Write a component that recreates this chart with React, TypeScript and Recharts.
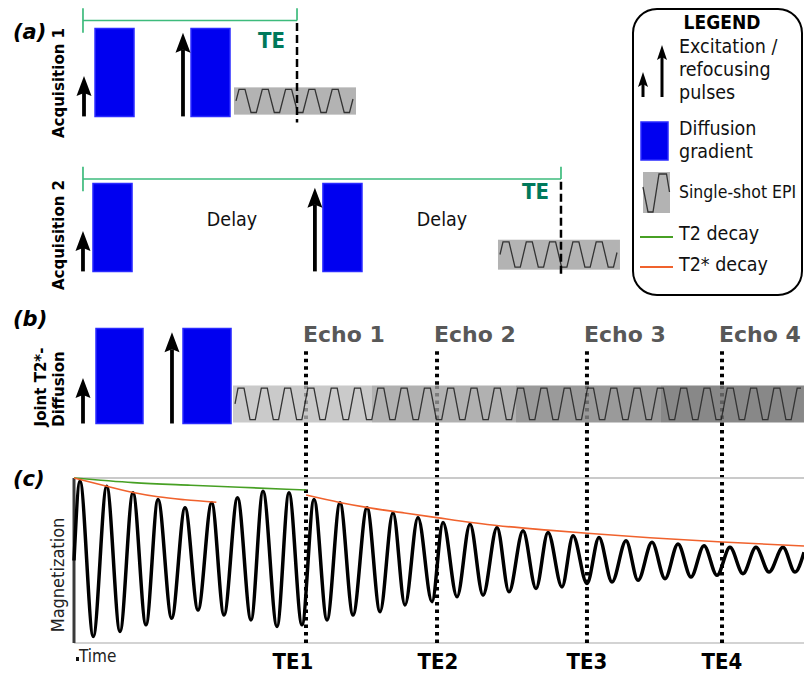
import React from "react";
import {
  ComposedChart,
  Line,
  XAxis,
  YAxis,
  ReferenceArea,
  ReferenceLine
} from "recharts";

const SANS = "'DejaVu Sans', sans-serif";
const COND = "'DejaVu Sans Condensed', 'DejaVu Sans', sans-serif";

const BLUE = "#0000f0";
const BLUE_EDGE = "#2a2aff";
const BRACKET = "#3dbb7c";
const TE_TEXT = "#00795b";
const T2_GREEN = "#47a024";
const T2S_ORANGE = "#f0622d";
const EPI_GRAY = "#b3b3b3";

// shared time axis (arbitrary units), t = 0 at the left edge of panel (c)
const timeDomain: [number, number] = [0, 100];

// (a) acquisition 1 -- amplitudes in gradient units (gradient lobe = 10)
const acq1Pulses = [
  { t: 1.37, amp: 4.6 },
  { t: 14.93, amp: 9.5 }
];
const acq1Gradients = [
  { from: 2.88, to: 8.22, amp: 10 },
  { from: 16.03, to: 21.37, amp: 10 }
];
const acq1Readout = [{ from: 21.92, to: 38.63, low: 0.2, high: 3.3 }];
const acq1Echo = { start: 1.23, te: 30.55, level: 10.9 };

// (a) acquisition 2
const acq2Pulses = [
  { t: 1.23, amp: 4.6 },
  { t: 33.0, amp: 9.5 }
];
const acq2Gradients = [
  { from: 2.6, to: 7.95, amp: 10 },
  { from: 34.1, to: 39.45, amp: 10 }
];
const acq2Readout = [{ from: 58.08, to: 74.79, low: 0.2, high: 3.6 }];
const acq2Echo = { start: 1.23, te: 66.71, level: 10.5 };

// (b) joint T2*-diffusion
const jointPulses = [
  { t: 1.23, amp: 4.8 },
  { t: 13.42, amp: 9.6 }
];
const jointGradients = [
  { from: 3.01, to: 9.45, amp: 10 },
  { from: 14.93, to: 21.51, amp: 10 }
];
const jointReadout = { low: 0.1, high: 4.0 };
const echoBounds = [21.78, 40.82, 60.55, 80.41, 100];
const echoShades = ["#cacaca", "#b1b1b1", "#9a9a9a", "#888888"];
const echoLabels = ["Echo 1", "Echo 2", "Echo 3", "Echo 4"];

// (c) echo times and magnetization
const teTimes = [31.78, 49.73, 70.27, 88.77];
const teLabels = ["TE1", "TE2", "TE3", "TE4"];

const magTime = [
  0, 0.82, 2.64, 4.48, 6.3, 8.08, 9.86, 11.51, 13.38, 15.21, 16.99, 18.86,
  20.55, 22.4, 24.25, 25.89, 27.81, 29.45, 31.23, 32.88, 34.66, 36.44, 38.22,
  40.14, 41.92, 43.7, 45.34, 47.12, 49.04, 50.55, 52.47, 54.25, 56.03, 57.95,
  59.59, 61.51, 63.29, 64.93, 66.85, 68.36, 70.27, 71.92, 73.7, 75.62, 77.26,
  79.18, 80.96, 82.74, 84.52, 86.3, 88.08, 89.86, 91.64, 93.42, 95.21, 97.12,
  98.77, 100
];
const magValue = [
  0.5, 0.98, 0.04, 0.95, 0.07, 0.91, 0.11, 0.87, 0.15, 0.82, 0.2, 0.85, 0.17,
  0.88, 0.14, 0.92, 0.1, 0.91, 0.11, 0.87, 0.14, 0.85, 0.17, 0.82, 0.19, 0.79,
  0.23, 0.76, 0.25, 0.73, 0.28, 0.72, 0.29, 0.7, 0.31, 0.68, 0.33, 0.67, 0.34,
  0.65, 0.36, 0.64, 0.37, 0.62, 0.38, 0.61, 0.39, 0.6, 0.4, 0.59, 0.41, 0.58,
  0.42, 0.58, 0.43, 0.58, 0.43, 0.55
];

const t2Time = [0, 8.1, 16.0, 22.7, 31.8];
const t2Value = [1.0, 0.972, 0.956, 0.944, 0.927];

const t2StarFirstTime = [0, 4.5, 8.1, 11.5, 15.2, 19.5];
const t2StarFirstValue = [1.0, 0.95, 0.912, 0.886, 0.868, 0.853];

const t2StarSecondTime = [31.8, 36.4, 40.1, 45.0, 49.7, 57.9, 64.9, 70.3, 78.9, 88.8, 100];
const t2StarSecondValue = [0.897, 0.852, 0.822, 0.79, 0.76, 0.712, 0.684, 0.665, 0.638, 0.612, 0.588];

const toRows = (ts: number[], vs: number[]) => ts.map((t, i) => ({ t, m: vs[i] }));
const magData = toRows(magTime, magValue);
const t2Data = toRows(t2Time, t2Value);
const t2StarFirst = toRows(t2StarFirstTime, t2StarFirstValue);
const t2StarSecond = toRows(t2StarSecondTime, t2StarSecondValue);

// EPI readout glyph (trapezoid gradient train), sizes in px
const EPI_RISE = 6;
const EPI_TOP = 6;
const EPI_FALL = 6;
const EPI_BOTTOM = 5.3;

function wavePath(x: number, y: number, w: number, h: number) {
  const top = y + h * 0.07;
  const bot = y + h * 0.92;
  const mid = (top + bot) / 2;
  const end = x + w - 3;
  const pts: Array<[number, number]> = [[x + 2, mid]];
  let cx = x + 2 + EPI_RISE / 2;
  pts.push([cx, top]);
  const steps: Array<[number, number]> = [
    [EPI_TOP, top],
    [EPI_FALL, bot],
    [EPI_BOTTOM, bot],
    [EPI_RISE, top]
  ];
  let k = 0;
  while (cx < end) {
    const [dx, ny] = steps[k % 4];
    const [px, py] = pts[pts.length - 1];
    const nx = cx + dx;
    if (nx > end) {
      const f = (end - px) / (nx - px);
      pts.push([end, py + (ny - py) * f]);
      break;
    }
    pts.push([nx, ny]);
    cx = nx;
    k += 1;
  }
  return "M" + pts.map((p) => `${p[0].toFixed(1)},${p[1].toFixed(1)}`).join(" L");
}

function EpiShape(props: any) {
  const { x, y, width, height, fill } = props;
  return (
    <g>
      {fill !== "none" && <rect x={x} y={y} width={width} height={height} fill={fill} />}
      <path d={wavePath(x, y, width, height)} fill="none" stroke="#333" strokeWidth={1.3} />
    </g>
  );
}

function arrowGlyph(x: number, baseY: number, tipY: number, headW: number, headH: number, shaft: number) {
  return (
    <g>
      <line x1={x} y1={baseY} x2={x} y2={tipY + headH - 3} stroke="#000" strokeWidth={shaft} />
      <polygon
        points={`${x},${tipY} ${x - headW / 2},${tipY + headH} ${x},${tipY + headH - 3} ${x + headW / 2},${tipY + headH}`}
        fill="#000"
      />
    </g>
  );
}

function ArrowShape(props: any) {
  const { x1, y1, x2, y2 } = props;
  return arrowGlyph(x1, Math.max(y1, y2), Math.min(y1, y2), 15, 20, 3.8);
}

type Pulse = { t: number; amp: number };
type Grad = { from: number; to: number; amp: number };

const pulseMarks = (pulses: Pulse[], key: string) =>
  pulses.map((p, i) => (
    <ReferenceLine
      key={`${key}-p${i}`}
      segment={[{ x: p.t, y: 0 }, { x: p.t, y: p.amp }]}
      shape={ArrowShape}
      ifOverflow="visible"
    />
  ));

const gradientMarks = (grads: Grad[], key: string) =>
  grads.map((g, i) => (
    <ReferenceArea
      key={`${key}-g${i}`}
      x1={g.from}
      x2={g.to}
      y1={0}
      y2={g.amp}
      fill={BLUE}
      fillOpacity={1}
      stroke={BLUE_EDGE}
      strokeWidth={1.5}
      ifOverflow="visible"
    />
  ));

const echoBracket = (e: { start: number; te: number; level: number }, key: string) => [
  <ReferenceLine key={`${key}-b`} segment={[{ x: e.start, y: e.level }, { x: e.te, y: e.level }]} stroke={BRACKET} strokeWidth={1.7} ifOverflow="visible" />,
  <ReferenceLine key={`${key}-l`} segment={[{ x: e.start, y: e.level + 1.4 }, { x: e.start, y: e.level - 1.4 }]} stroke={BRACKET} strokeWidth={1.7} ifOverflow="visible" />,
  <ReferenceLine key={`${key}-r`} segment={[{ x: e.te, y: e.level + 1.4 }, { x: e.te, y: e.level }]} stroke={BRACKET} strokeWidth={1.7} ifOverflow="visible" />
];

const teDash = (te: number, from: number, key: string) => (
  <ReferenceLine
    key={`${key}-te`}
    segment={[{ x: te, y: from }, { x: te, y: -0.7 }]}
    stroke="#000"
    strokeWidth={2.5}
    strokeDasharray="8 4"
    ifOverflow="visible"
  />
);

function SequenceRow(props: { top: number; height: number; yDomain: [number, number]; children: React.ReactNode }) {
  return (
    <div style={{ position: "absolute", left: 0, top: props.top }}>
      <ComposedChart width={804} height={props.height} margin={{ top: 0, right: 0, bottom: 0, left: 74 }}>
        <XAxis type="number" dataKey="t" domain={timeDomain} hide allowDataOverflow />
        <YAxis type="number" domain={props.yDomain} hide allowDataOverflow />
        {props.children}
      </ComposedChart>
    </div>
  );
}

function Labels() {
  const bold = { fontFamily: SANS, fontWeight: 700 } as const;
  return (
    <svg width={804} height={673} style={{ position: "absolute", left: 0, top: 0, pointerEvents: "none" }}>
      <g style={{ ...bold, fontStyle: "italic", fontSize: 21 }}>
        <text x={13} y={39}>(a)</text>
        <text x={13} y={326}>(b)</text>
        <text x={13} y={486}>(c)</text>
      </g>
      <g style={{ ...bold, fontSize: 15 }} textAnchor="middle">
        <text transform="translate(64,83) rotate(-90)">Acquisition 1</text>
        <text transform="translate(64,235) rotate(-90)">Acquisition 2</text>
        <text transform="translate(46,387) rotate(-90)">Joint T2*-</text>
        <text transform="translate(64,389) rotate(-90)">Diffusion</text>
      </g>
      <g style={{ fontFamily: COND, fontStretch: "condensed", fontWeight: 700, fontSize: 22 }} fill={TE_TEXT}>
        <text x={258} y={48}>TE</text>
        <text x={522} y={199}>TE</text>
      </g>
      <g style={{ fontFamily: COND, fontStretch: "condensed", fontSize: 19.5 }} textAnchor="middle" fill="#111">
        <text x={232} y={226}>Delay</text>
        <text x={442} y={226}>Delay</text>
      </g>
      <g style={{ ...bold, fontSize: 22 }} fill="#585858">
        {echoLabels.map((l, i) => (
          <text key={l} x={[303, 434, 584, 719][i]} y={342}>{l}</text>
        ))}
      </g>
      <g style={{ fontFamily: COND, fontStretch: "condensed", fontWeight: 700, fontSize: 22 }} textAnchor="middle">
        {teLabels.map((l, i) => (
          <text key={l} x={[293, 438, 587, 722][i]} y={669}>{l}</text>
        ))}
      </g>
      <text
        transform="translate(64,575) rotate(-90)"
        textAnchor="middle"
        style={{ fontFamily: COND, fontStretch: "condensed", fontSize: 18 }}
        fill="#222"
      >
        Magnetization
      </text>
      <rect x={76} y={657} width={3} height={4} fill="#111" />
      <text x={79} y={662} style={{ fontFamily: COND, fontStretch: "condensed", fontSize: 17 }} fill="#222">Time</text>
    </svg>
  );
}

function LegendBox() {
  const txt = { fontFamily: COND, fontStretch: "condensed", fontSize: 19.5 } as const;
  return (
    <svg width={804} height={673} style={{ position: "absolute", left: 0, top: 0, pointerEvents: "none" }}>
      <rect x={633} y={9} width={169} height={286} rx={24} fill="#fff" stroke="#000" strokeWidth={2} />
      <text x={722} y={29} textAnchor="middle" style={{ ...txt, fontSize: 19, fontWeight: 700 }}>LEGEND</text>
      {arrowGlyph(643, 97, 72, 10, 15, 3)}
      {arrowGlyph(662, 97, 45, 10, 15, 3)}
      <g style={txt} fill="#111">
        <text x={679} y={53}>Excitation /</text>
        <text x={679} y={76}>refocusing</text>
        <text x={679} y={99}>pulses</text>
        <text x={679} y={135}>Diffusion</text>
        <text x={679} y={158}>gradient</text>
        <text x={679} y={198} style={{ fontSize: 17.5 }}>Single-shot EPI</text>
        <text x={679} y={240}>T2 decay</text>
        <text x={679} y={271}>T2* decay</text>
      </g>
      <rect x={641} y={122} width={27} height={38} fill={BLUE} stroke={BLUE_EDGE} strokeWidth={1.5} />
      <rect x={643} y={172} width={27} height={41} fill={EPI_GRAY} />
      <path d="M643,187 L648,212 L653,212 L659,174 L666.5,174 L669.5,192" fill="none" stroke="#333" strokeWidth={1.3} />
      <line x1={640} y1={237} x2={673} y2={237} stroke={T2_GREEN} strokeWidth={2} />
      <line x1={640} y1={267} x2={673} y2={267} stroke={T2S_ORANGE} strokeWidth={2} />
    </svg>
  );
}

export default function App() {
  return (
    <div style={{ position: "absolute", left: 0, top: 0, width: 804, height: 673, background: "#fff", overflow: "hidden" }}>
      {/* (a) acquisition 1 */}
      <SequenceRow top={1.6} height={132} yDomain={[-2, 13]}>
        {echoBracket(acq1Echo, "a1")}
        {gradientMarks(acq1Gradients, "a1")}
        {acq1Readout.map((r, i) => (
          <ReferenceArea key={`a1-r${i}`} x1={r.from} x2={r.to} y1={r.low} y2={r.high} fill={EPI_GRAY} fillOpacity={1} shape={EpiShape} ifOverflow="visible" />
        ))}
        {pulseMarks(acq1Pulses, "a1")}
        {teDash(acq1Echo.te, acq1Echo.level - 0.3, "a1")}
      </SequenceRow>

      {/* (a) acquisition 2 */}
      <SequenceRow top={156.6} height={132} yDomain={[-2, 13]}>
        {echoBracket(acq2Echo, "a2")}
        {gradientMarks(acq2Gradients, "a2")}
        {acq2Readout.map((r, i) => (
          <ReferenceArea key={`a2-r${i}`} x1={r.from} x2={r.to} y1={r.low} y2={r.high} fill={EPI_GRAY} fillOpacity={1} shape={EpiShape} ifOverflow="visible" />
        ))}
        {pulseMarks(acq2Pulses, "a2")}
        {teDash(acq2Echo.te, acq2Echo.level - 0.3, "a2")}
      </SequenceRow>

      {/* (b) joint T2*-diffusion */}
      <SequenceRow top={300.35} height={177.65} yDomain={[-5.7, 13]}>
        {gradientMarks(jointGradients, "b")}
        {echoShades.map((c, i) => (
          <ReferenceArea key={`b-s${i}`} x1={echoBounds[i]} x2={echoBounds[i + 1]} y1={jointReadout.low} y2={jointReadout.high} fill={c} fillOpacity={1} ifOverflow="visible" />
        ))}
        <ReferenceArea x1={echoBounds[0]} x2={echoBounds[4]} y1={jointReadout.low} y2={jointReadout.high} fill="none" shape={EpiShape} ifOverflow="visible" />
        {teTimes.map((te, i) => [
          <ReferenceLine
            key={`b-te-top${i}`}
            segment={[{ x: te, y: 7.6 }, { x: te, y: jointReadout.high }]}
            stroke="#000"
            strokeWidth={4}
            strokeDasharray="3.5 4"
            ifOverflow="visible"
          />,
          <ReferenceLine
            key={`b-te-mid${i}`}
            segment={[{ x: te, y: jointReadout.high }, { x: te, y: jointReadout.low }]}
            stroke="#000"
            strokeOpacity={0.3}
            strokeWidth={4}
            strokeDasharray="3.5 4"
            ifOverflow="visible"
          />,
          <ReferenceLine
            key={`b-te-bot${i}`}
            segment={[{ x: te, y: jointReadout.low }, { x: te, y: -5.7 }]}
            stroke="#000"
            strokeWidth={4}
            strokeDasharray="3.5 4"
            ifOverflow="visible"
          />
        ])}
        {pulseMarks(jointPulses, "b")}
      </SequenceRow>

      {/* (c) magnetization */}
      <div style={{ position: "absolute", left: 0, top: 473 }}>
        <ComposedChart width={804} height={175} margin={{ top: 5, right: 0, bottom: 5, left: 74 }}>
          <XAxis type="number" dataKey="t" domain={timeDomain} hide />
          <YAxis type="number" domain={[0, 1]} hide />
          <ReferenceLine y={1} stroke="#b8b8b8" strokeWidth={1.5} />
          <ReferenceLine y={0} stroke="#c4c4c4" strokeWidth={1.5} />
          {teTimes.map((te, i) => (
            <ReferenceLine key={`c-te${i}`} x={te} stroke="#000" strokeWidth={4} strokeDasharray="3.5 4" />
          ))}
          <ReferenceLine x={0} stroke="#3a3a3a" strokeWidth={3} />
          <Line data={magData} dataKey="m" type="monotone" stroke="#000" strokeWidth={3.5} dot={false} isAnimationActive={false} />
          <Line data={t2Data} dataKey="m" type="monotone" stroke={T2_GREEN} strokeWidth={1.6} dot={false} isAnimationActive={false} />
          <Line data={t2StarFirst} dataKey="m" type="monotone" stroke={T2S_ORANGE} strokeWidth={1.6} dot={false} isAnimationActive={false} />
          <Line data={t2StarSecond} dataKey="m" type="monotone" stroke={T2S_ORANGE} strokeWidth={1.6} dot={false} isAnimationActive={false} />
        </ComposedChart>
      </div>

      <Labels />
      <LegendBox />
    </div>
  );
}
